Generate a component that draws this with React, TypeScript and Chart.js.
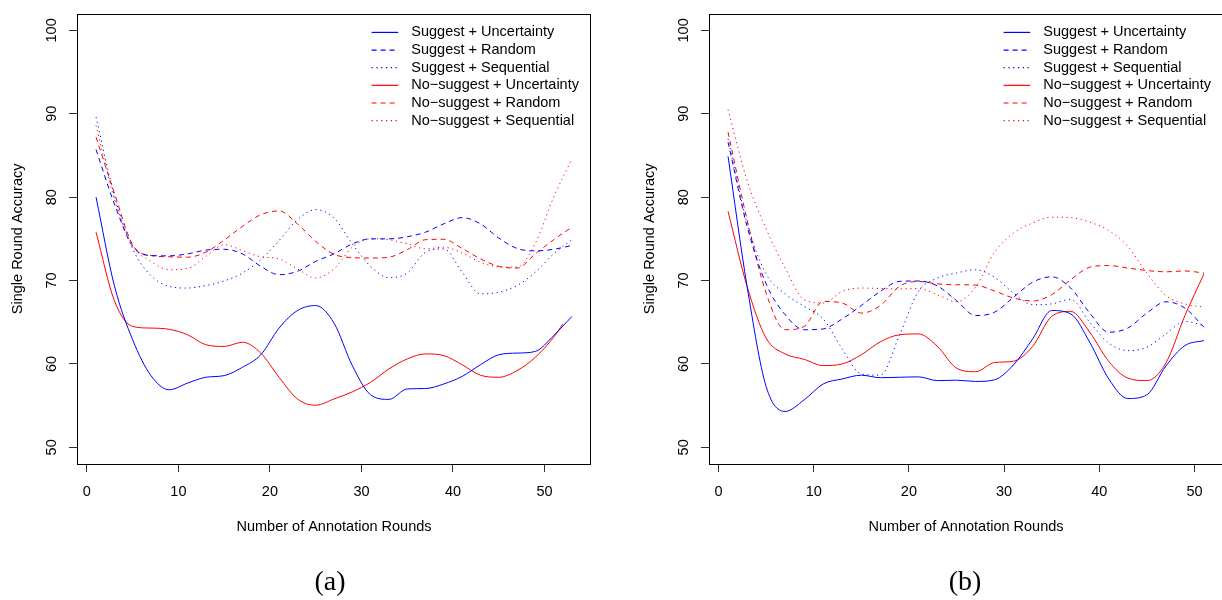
import React, { useEffect, useRef } from "react";
import { Chart, registerables } from "chart.js";

Chart.register(...registerables);

// ---------- data ----------
const seriesLabels = [
  "Suggest + Uncertainty",
  "Suggest + Random",
  "Suggest + Sequential",
  "No\u2212suggest + Uncertainty",
  "No\u2212suggest + Random",
  "No\u2212suggest + Sequential",
];

const xTickValues = [0, 10, 20, 30, 40, 50];
const yTickValues = [50, 60, 70, 80, 90, 100];

// panel (a): rounds sampled every second round
const roundsA = [1, 3, 5, 7, 9, 11, 13, 15, 17, 19, 21, 23, 25, 27, 29, 31, 33, 35, 37, 39, 41, 43, 45, 47, 49, 51, 53];
const roundsAShort = [1, 3, 5, 7, 9, 11, 13, 15, 17, 19, 21, 23, 25, 27, 29, 31, 33, 35, 37, 39, 41, 43, 45, 47, 49, 51, 52];

const suggestUncA = [80.0, 69.4, 62.9, 58.6, 56.9, 57.7, 58.4, 58.6, 59.6, 61.1, 64.3, 66.4, 67.0, 64.9, 59.8, 56.3, 55.75, 57.0, 57.05, 57.6, 58.5, 59.9, 61.1, 61.3, 61.5, 63.4, 65.7];
const suggestRandA = [85.7, 79.2, 74.1, 73.0, 72.96, 73.2, 73.65, 73.75, 73.2, 71.7, 70.7, 71.1, 72.3, 73.2, 74.4, 75.0, 75.0, 75.25, 75.8, 76.8, 77.55, 76.8, 75.1, 73.85, 73.55, 73.75, 74.2];
const suggestSeqA = [89.6, 80.2, 73.8, 70.6, 69.3, 69.1, 69.4, 69.95, 70.9, 72.5, 74.8, 77.3, 78.5, 77.5, 74.4, 71.7, 70.35, 70.9, 73.4, 73.8, 71.0, 68.4, 68.6, 69.4, 71.0, 73.2, 74.9];
const noSuggestUncA = [75.8, 67.6, 64.5, 64.3, 64.15, 63.5, 62.3, 62.1, 62.6, 61.3, 58.4, 55.8, 55.05, 55.8, 56.65, 57.8, 59.4, 60.6, 61.2, 61.0, 59.9, 58.65, 58.4, 59.2, 60.8, 63.2, 64.8];
const noSuggestRandA = [87.2, 80.5, 74.3, 73.0, 72.85, 72.8, 73.4, 74.85, 76.5, 77.9, 78.35, 76.8, 74.7, 73.15, 72.75, 72.7, 72.8, 73.7, 74.9, 74.95, 73.85, 72.6, 71.7, 71.5, 73.2, 74.9, 76.4];
const noSuggestSeqA = [88.6, 79.8, 74.2, 72.3, 71.3, 71.45, 72.9, 74.3, 73.6, 72.85, 72.6, 71.4, 70.3, 71.4, 74.0, 75.0, 74.9, 74.4, 73.8, 74.0, 73.3, 72.2, 71.65, 71.6, 74.5, 80.0, 84.6];

// panel (b)
const roundsB = [1, 3, 5, 7, 9, 11, 13, 15, 17, 19, 21, 23, 25, 27, 29, 31, 33, 35, 37, 39, 41, 43, 45, 47, 49, 51];

const suggestUncB = [84.9, 69.3, 57.3, 54.3, 55.7, 57.6, 58.2, 58.65, 58.35, 58.4, 58.45, 58.0, 58.05, 57.9, 58.1, 59.9, 63.0, 66.4, 66.0, 62.6, 58.2, 55.85, 56.3, 59.75, 62.2, 62.8];
const suggestRandB = [86.6, 76.5, 69.6, 65.9, 64.1, 64.2, 65.4, 67.0, 68.7, 69.9, 69.95, 69.35, 67.6, 65.8, 66.2, 68.0, 69.8, 70.45, 69.1, 66.1, 63.8, 64.3, 66.1, 67.45, 66.7, 64.4];
const suggestSeqB = [87.0, 76.9, 70.8, 68.4, 66.9, 65.4, 61.8, 58.8, 58.65, 63.4, 68.7, 70.3, 70.9, 71.3, 70.4, 68.5, 67.1, 67.2, 67.75, 65.0, 62.5, 61.6, 62.0, 63.6, 65.1, 64.6];
const noSuggestUncB = [78.3, 69.3, 63.1, 61.2, 60.55, 59.8, 60.0, 61.1, 62.65, 63.5, 63.6, 62.1, 59.5, 59.07, 60.17, 60.33, 62.1, 65.7, 66.3, 63.8, 60.3, 58.3, 58.0, 60.1, 65.8, 70.8];
const noSuggestRandB = [87.8, 77.3, 68.5, 64.1, 64.5, 67.5, 67.3, 66.1, 67.0, 69.3, 69.9, 69.6, 69.5, 69.45, 68.75, 67.9, 67.55, 68.3, 70.1, 71.6, 71.8, 71.5, 71.2, 71.05, 71.15, 70.9];
const noSuggestSeqB = [90.5, 82.0, 76.2, 71.5, 67.7, 67.3, 68.7, 69.1, 69.05, 69.0, 69.05, 68.3, 67.45, 69.2, 73.4, 75.7, 76.9, 77.6, 77.55, 77.0, 76.0, 74.1, 70.9, 68.2, 67.2, 66.8];

// ---------- styles ----------
const BLUE = "#0000ff";
const RED = "#ff0000";
const SOLID: number[] = [];
const DASHED = [5, 4];
const DOTTED = [1.2, 3.6];
const seriesColors = [BLUE, BLUE, BLUE, RED, RED, RED];
const seriesDashes = [SOLID, DASHED, DOTTED, SOLID, DASHED, DOTTED];

const SANS = '"Liberation Sans", Arial, Helvetica, sans-serif';
const FONT_SIZE = 14.5;

const CANVAS_W = 632;
const CANVAS_H = 600;

type SeriesDef = { rounds: number[]; values: number[] };

const boxPlugin = {
  id: "rbox",
  afterDatasetsDraw(chart: any) {
    const { ctx, chartArea } = chart;
    ctx.save();
    ctx.strokeStyle = "#000";
    ctx.lineWidth = 1;
    ctx.setLineDash([]);
    const l = Math.round(chartArea.left) + 0.5;
    const t = Math.round(chartArea.top) + 0.5;
    const r = Math.round(chartArea.right) - 0.5;
    const b = Math.round(chartArea.bottom) + 0.5;
    ctx.strokeRect(l, t, r - l, b - t);
    ctx.restore();
  },
};

const legendPlugin = {
  id: "rlegend",
  afterDatasetsDraw(chart: any) {
    const { ctx, chartArea } = chart;
    const n = chart.data.datasets.length;
    for (let i = 0; i < n; i++) {
      const ds = chart.data.datasets[i];
      const y = chartArea.top + 18.7 + i * 17.65;
      ctx.save();
      ctx.beginPath();
      ctx.strokeStyle = seriesColors[i];
      ctx.lineWidth = 1.2;
      ctx.setLineDash(seriesDashes[i]);
      ctx.moveTo(chartArea.left + 294.6, y);
      ctx.lineTo(chartArea.left + 321.3, y);
      ctx.stroke();
      ctx.restore();
      ctx.save();
      ctx.fillStyle = "#000";
      ctx.font = `${FONT_SIZE}px ${SANS}`;
      ctx.textBaseline = "middle";
      ctx.textAlign = "left";
      ctx.fillText(ds.label, chartArea.left + 334.3, y);
      ctx.restore();
    }
  },
};

function Panel(props: {
  left: number;
  series: SeriesDef[];
  xMin: number;
  xMax: number;
  caption: string;
  captionX: number;
}) {
  const ref = useRef<HTMLCanvasElement>(null);
  useEffect(() => {
    const font = { family: SANS, size: FONT_SIZE };
    const chart = new Chart(ref.current as HTMLCanvasElement, {
      type: "line",
      data: {
        datasets: props.series.map((s, i) => ({
          label: seriesLabels[i],
          data: s.rounds.map((x, j) => ({ x, y: s.values[j] })),
          borderColor: seriesColors[i],
          backgroundColor: seriesColors[i],
          borderDash: seriesDashes[i],
          borderWidth: 1,
          pointRadius: 0,
          fill: false,
          cubicInterpolationMode: "monotone" as const,
        })),
      },
      options: {
        animation: false,
        responsive: false,
        maintainAspectRatio: false,
        devicePixelRatio: 1,
        layout: { padding: { left: 0, top: 4, right: CANVAS_W - 591, bottom: 0 } },
        plugins: {
          legend: { display: false },
          tooltip: { enabled: false },
          title: { display: false },
        },
        scales: {
          x: {
            type: "linear",
            min: props.xMin,
            max: props.xMax,
            afterBuildTicks: (scale: any) => {
              scale.ticks = xTickValues.map((v) => ({ value: v }));
            },
            afterFit: (scale: any) => {
              scale.height = CANVAS_H - 464;
            },
            grid: {
              display: true,
              drawOnChartArea: false,
              drawTicks: true,
              tickLength: 8,
              color: "#333",
              lineWidth: 1,
            },
            border: { display: false },
            ticks: {
              color: "#000",
              font,
              padding: 11,
              autoSkip: false,
              maxRotation: 0,
              minRotation: 0,
              callback: (v: any) => String(v),
            },
            title: {
              display: true,
              text: "Number of Annotation Rounds",
              color: "#000",
              font,
              padding: { top: 0, bottom: 64 },
            },
          },
          y: {
            type: "linear",
            min: 48,
            max: 102,
            afterBuildTicks: (scale: any) => {
              scale.ticks = yTickValues.map((v) => ({ value: v }));
            },
            afterFit: (scale: any) => {
              scale.width = 77;
            },
            grid: {
              display: true,
              drawOnChartArea: false,
              drawTicks: true,
              tickLength: 8,
              color: "#333",
              lineWidth: 1,
            },
            border: { display: false },
            ticks: {
              color: "#000",
              font,
              padding: 5,
              autoSkip: false,
              minRotation: 90,
              maxRotation: 90,
              crossAlign: "center",
              callback: (v: any) => String(v),
            },
            title: {
              display: true,
              text: "Single Round Accuracy",
              color: "#000",
              font,
              padding: { top: 9, bottom: 0 },
            },
          },
        },
      } as any,
      plugins: [boxPlugin, legendPlugin],
    });
    return () => chart.destroy();
  }, []);

  return (
    <div style={{ position: "absolute", left: props.left, top: 0, width: CANVAS_W, height: CANVAS_H }}>
      <canvas
        ref={ref}
        width={CANVAS_W}
        height={CANVAS_H}
        style={{ display: "block", width: CANVAS_W, height: CANVAS_H }}
      />
      <div
        style={{
          position: "absolute",
          left: props.captionX - 60,
          width: 120,
          top: 566.5,
          textAlign: "center",
          fontFamily: '"Liberation Serif", "Times New Roman", serif',
          fontSize: 28,
          lineHeight: "28px",
          color: "#000",
        }}
      >
        {props.caption}
      </div>
    </div>
  );
}

export default function App() {
  const seriesA: SeriesDef[] = [
    { rounds: roundsA, values: suggestUncA },
    { rounds: roundsA, values: suggestRandA },
    { rounds: roundsA, values: suggestSeqA },
    { rounds: roundsAShort, values: noSuggestUncA },
    { rounds: roundsA, values: noSuggestRandA },
    { rounds: roundsA, values: noSuggestSeqA },
  ];
  const seriesB: SeriesDef[] = [
    { rounds: roundsB, values: suggestUncB },
    { rounds: roundsB, values: suggestRandB },
    { rounds: roundsB, values: suggestSeqB },
    { rounds: roundsB, values: noSuggestUncB },
    { rounds: roundsB, values: noSuggestRandB },
    { rounds: roundsB, values: noSuggestSeqB },
  ];
  return (
    <div
      style={{
        position: "absolute",
        left: 0,
        top: 0,
        width: 1222,
        height: 600,
        overflow: "hidden",
        background: "#fff",
      }}
    >
      <Panel left={0} series={seriesA} xMin={-1.08} xMax={55.08} caption="(a)" captionX={330} />
      <Panel left={632} series={seriesB} xMin={-1} xMax={53} caption="(b)" captionX={333} />
    </div>
  );
}
